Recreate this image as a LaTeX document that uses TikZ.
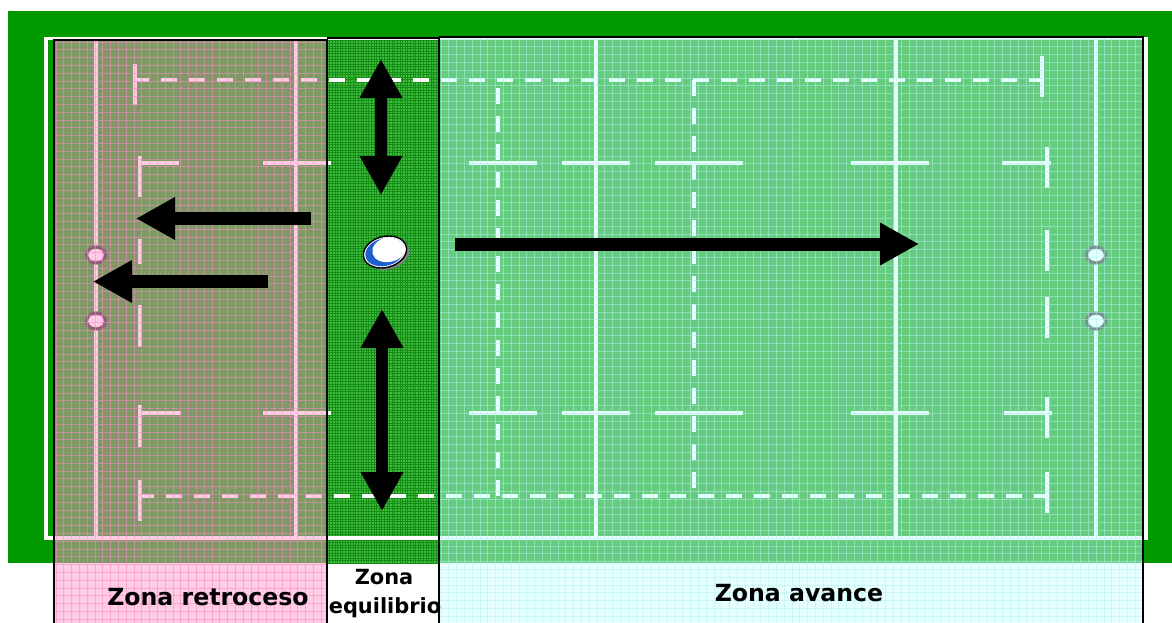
\documentclass[tikz,border=0pt]{standalone}
\usepackage{fontspec}
\setmainfont{DejaVu Sans}
\usetikzlibrary{arrows.meta,shapes.geometric}
\definecolor{bggreen}{HTML}{009900}
\definecolor{eqgreen}{HTML}{44BB44}
\definecolor{eqdark}{HTML}{138F13}
\definecolor{pinkov}{HTML}{FF99CC}
\definecolor{pinkgrid}{HTML}{F58CC4}
\definecolor{cyanov}{HTML}{CCFFFF}
\definecolor{cyangrid}{HTML}{B0F0E8}
\definecolor{ballblue}{HTML}{1E5FD0}
\tikzset{
  fieldline/.style={white, line width=3.2pt},
  dashline/.style={white, line width=4pt, dash pattern=on 16pt off 12pt},
  post/.style={ellipse, draw=black!85, line width=3.2pt, fill=white, inner sep=0pt, minimum width=19pt, minimum height=16pt},
  bigarrow/.style={line width=13pt, -{Triangle[length=39pt,width=40pt]}},
  dblarrow/.style={line width=12pt, {Triangle[length=39pt,width=40pt]}-{Triangle[length=39pt,width=40pt]}},
  zonelabel/.style={font=\fontsize{23.6}{28}\selectfont\bfseries, inner sep=0pt, anchor=base},
  smalllabel/.style={font=\fontsize{20.9}{25}\selectfont\bfseries, inner sep=0pt, anchor=base},
  zoneborder/.style={draw=black, line width=1.5pt},
}
\begin{document}
\begin{tikzpicture}[x=1pt,y=-1pt]
\useasboundingbox (0,0) rectangle (1172,623);
\fill[white] (0,0) rectangle (1172,623);
\fill[bggreen] (8,11) rectangle (1172,563);
% equilibrium zone texture
\fill[eqgreen] (327,38) rectangle (439,563);
\begin{scope}
  \clip (327,38) rectangle (439,563);
  \foreach \x in {327,329.6,...,440} \draw[eqdark, line width=0.55pt] (\x,38) -- (\x,563);
  \foreach \y in {38,40.6,...,564} \draw[eqdark, line width=0.55pt] (327,\y) -- (439,\y);
\end{scope}
% field lines
\draw[fieldline] (46,38.5) rectangle (1146,538);
\foreach \x in {96,296,596,896,1096} \draw[fieldline] (\x,38.5) -- (\x,538);
\draw[dashline] (133,80) -- (1042,80);
\draw[dashline] (138,496) -- (1047,496);
\draw[dashline] (498,88) -- (498,496);
\draw[dashline] (694,80) -- (694,488);
\draw[fieldline] (135,64) -- (135,105);
\draw[fieldline] (140,156) -- (140,197);
\draw[fieldline] (140,163) -- (179,163);
\draw[fieldline] (263,163) -- (331,163);
\draw[fieldline] (140,239) -- (140,264);
\draw[fieldline] (140,305) -- (140,347);
\draw[fieldline] (140,405) -- (140,447);
\draw[fieldline] (140,413) -- (181,413);
\draw[fieldline] (263,413) -- (331,413);
\draw[fieldline] (140,480) -- (140,521);
\foreach \a/\b in {469/537,562/630,655/743,851/929} {
  \draw[fieldline] (\a,163) -- (\b,163);
  \draw[fieldline] (\a,413) -- (\b,413);
}
\draw[fieldline] (1002,163) -- (1051,163);
\draw[fieldline] (1004,413) -- (1052,413);
\draw[fieldline] (1042,56) -- (1042,97);
\draw[fieldline] (1047,147) -- (1047,188);
\draw[fieldline] (1047,230) -- (1047,271);
\draw[fieldline] (1047,297) -- (1047,338);
\draw[fieldline] (1047,397) -- (1047,438);
\draw[fieldline] (1047,472) -- (1047,513);
% goal posts
\node[post] (gpl1) at (96,255) {};
\node[post] (gpl2) at (96,321) {};
\node[post] (gpr1) at (1096,255) {};
\node[post] (gpr2) at (1096,321) {};
% pink overlay
\fill[pinkov, fill opacity=0.5] (54,40) rectangle (327,623);
\begin{scope}
  \clip (54,40) rectangle (327,623);
  \foreach \x in {56,63.8,...,328} \draw[pinkgrid, opacity=0.55, line width=0.8pt] (\x,40) -- (\x,623);
  \foreach \y in {42,49.8,...,624} \draw[pinkgrid, opacity=0.55, line width=0.8pt] (54,\y) -- (327,\y);
\end{scope}
% cyan overlay
\fill[cyanov, fill opacity=0.5] (439,37) rectangle (1143,623);
\begin{scope}
  \clip (439,37) rectangle (1143,623);
  \foreach \x in {441,448.8,...,1144} \draw[cyangrid, opacity=0.5, line width=0.9pt] (\x,37) -- (\x,623);
  \foreach \y in {39,46.8,...,624} \draw[cyangrid, opacity=0.5, line width=0.9pt] (439,\y) -- (1143,\y);
\end{scope}
% arrows
\coordinate (l1s) at (311,218.5);
\coordinate (l1e) at (136,218.5);
\coordinate (l2s) at (268,281.5);
\coordinate (l2e) at (93,281.5);
\coordinate (rs) at (455,244);
\coordinate (re) at (919,244);
\coordinate (v1a) at (381,59);
\coordinate (v1b) at (381,195);
\coordinate (v2a) at (382,309);
\coordinate (v2b) at (382,511);
\draw[bigarrow] (l1s) -- (l1e);
\draw[bigarrow] (l2s) -- (l2e);
\draw[bigarrow] (rs) -- (re);
\draw[dblarrow] (v1a) -- (v1b);
\draw[dblarrow] (v2a) -- (v2b);
% ball
\begin{scope}[shift={(385,252)}, rotate=15]
  \fill[black!50] (2,2.5) ellipse [x radius=22pt, y radius=15.5pt];
  \fill[white] (0,0) ellipse [x radius=22pt, y radius=15.5pt];
  \begin{scope}
    \clip (0,0) ellipse [x radius=20pt, y radius=13.8pt];
    \fill[ballblue] (0,0) ellipse [x radius=20pt, y radius=13.8pt];
    \fill[white] (5,-1.5) ellipse [x radius=17.5pt, y radius=12.5pt];
  \end{scope}
  \draw[black, line width=1.4pt] (0,0) ellipse [x radius=22pt, y radius=15.5pt];
\end{scope}
% labels
\node[zonelabel] (lr) at (208,605) {Zona retroceso};
\node[smalllabel] (le1) at (384,584) {Zona};
\node[smalllabel] (le2) at (385,613) {equilibrio};
\node[zonelabel] (la) at (799,601) {Zona avance};
% zone borders
\draw[zoneborder] (54,623) -- (54,40) -- (327,40) -- (327,623);
\draw[zoneborder] (327,38) -- (439,38) -- (439,623);
\draw[zoneborder] (439,37) -- (1143,37) -- (1143,623);
\end{tikzpicture}
\end{document}
